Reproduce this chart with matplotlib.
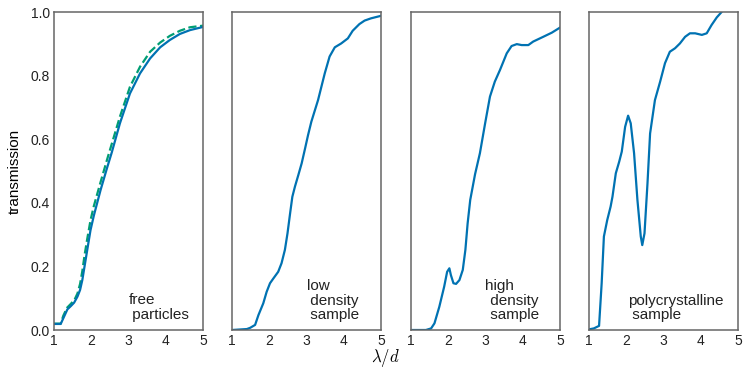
import numpy as np
import matplotlib
matplotlib.use("Agg")
import matplotlib.pyplot as plt

plt.rcParams['font.family'] = ['Liberation Sans', 'DejaVu Sans']
plt.rcParams['mathtext.fontset'] = 'cm'

# free particles (solid = calc, dashed = reference)
x_free = [1.0, 1.18, 1.27, 1.36, 1.45, 1.54, 1.63, 1.70, 1.76, 1.82, 1.89, 1.98, 2.07, 2.25,
          2.43, 2.55, 2.77, 3.04, 3.31, 3.58, 3.85, 4.11, 4.38, 4.65, 5.0]
y_free = [0.019, 0.019, 0.042, 0.065, 0.075, 0.086, 0.105, 0.126, 0.157, 0.2, 0.25, 0.314,
          0.36, 0.44, 0.512, 0.558, 0.65, 0.744, 0.807, 0.854, 0.889, 0.912, 0.931, 0.943, 0.953]
x_free_ref = [1.0, 1.18, 1.25, 1.35, 1.45, 1.55, 1.63, 1.70, 1.76, 1.82, 1.89, 1.98, 2.07, 2.25,
              2.43, 2.55, 2.77, 3.04, 3.31, 3.58, 3.85, 4.11, 4.38, 4.65, 5.0]
y_free_ref = [0.02, 0.02, 0.045, 0.07, 0.082, 0.095, 0.115, 0.145, 0.185, 0.235, 0.285, 0.345,
              0.39, 0.465, 0.538, 0.585, 0.671, 0.765, 0.828, 0.875, 0.904, 0.925, 0.941, 0.952,
              0.957]

# low density sample
x_low = [1.0, 1.40, 1.49, 1.62, 1.71, 1.84, 1.93, 2.02, 2.11, 2.24, 2.33, 2.42, 2.49, 2.56,
         2.62, 2.69, 2.78, 2.87, 2.96, 3.04, 3.13, 3.31, 3.49, 3.62, 3.76, 3.93, 4.11, 4.24,
         4.42, 4.56, 4.73, 5.0]
y_low = [0.0, 0.003, 0.007, 0.016, 0.047, 0.084, 0.12, 0.147, 0.162, 0.183, 0.21, 0.252,
         0.304, 0.367, 0.419, 0.451, 0.487, 0.524, 0.57, 0.612, 0.655, 0.723, 0.807, 0.86,
         0.889, 0.901, 0.917, 0.941, 0.962, 0.973, 0.98, 0.988]

# high density sample
x_high = [1.0, 1.40, 1.54, 1.63, 1.76, 1.89, 1.97, 2.03, 2.07, 2.14, 2.21, 2.30, 2.39, 2.46,
          2.52, 2.59, 2.72, 2.85, 2.99, 3.12, 3.25, 3.39, 3.57, 3.70, 3.84, 3.97, 4.15, 4.28,
          4.55, 4.78, 5.0]
y_high = [0.0, 0.0, 0.005, 0.021, 0.073, 0.136, 0.183, 0.194, 0.173, 0.147, 0.145, 0.157,
          0.189, 0.252, 0.335, 0.409, 0.49, 0.556, 0.65, 0.734, 0.781, 0.818, 0.87, 0.893,
          0.899, 0.896, 0.896, 0.907, 0.922, 0.935, 0.951]

# polycrystalline sample
x_poly = [1.0, 1.13, 1.27, 1.34, 1.40, 1.49, 1.58, 1.63, 1.72, 1.81, 1.88, 1.97, 2.05, 2.12,
          2.21, 2.30, 2.39, 2.43, 2.49, 2.57, 2.64, 2.77, 2.91, 3.04, 3.17, 3.31, 3.44, 3.58,
          3.71, 3.85, 4.03, 4.16, 4.29, 4.43, 4.56, 4.8, 5.0]
y_poly = [0.002, 0.005, 0.013, 0.147, 0.294, 0.346, 0.388, 0.419, 0.493, 0.529, 0.561, 0.639,
          0.674, 0.65, 0.556, 0.409, 0.294, 0.267, 0.304, 0.461, 0.618, 0.723, 0.781, 0.839,
          0.875, 0.886, 0.901, 0.922, 0.933, 0.933, 0.928, 0.933, 0.959, 0.983, 1.0, 1.04,
          1.07]

labels = ["free\n particles", "low\n density\n sample", "high\n density\n sample",
          "polycrystalline\n sample"]
label_x = [3.0, 3.0, 3.0, 2.05]

blue = '#0072B2'
green = '#009E73'

fig = plt.figure(figsize=(7.48, 3.76), dpi=100)
lefts = [54, 232, 411, 589]
axes = []
for i, l in enumerate(lefts):
    ax = fig.add_axes([l / 748, 46 / 376, 149 / 748, 318 / 376])
    axes.append(ax)

axes[0].plot(x_free_ref, y_free_ref, '--', color=green, lw=1.6)
axes[0].plot(x_free, y_free, '-', color=blue, lw=1.6)
axes[1].plot(x_low, y_low, '-', color=blue, lw=1.6)
axes[2].plot(x_high, y_high, '-', color=blue, lw=1.6)
axes[3].plot(x_poly, y_poly, '-', color=blue, lw=1.6)

for i, ax in enumerate(axes):
    ax.set_xlim(1, 5)
    ax.set_ylim(0, 1)
    ax.set_xticks([1, 2, 3, 4, 5])
    ax.tick_params(length=0, labelsize=10, pad=3, colors='#222222')
    for s in ax.spines.values():
        s.set_color('#666666')
        s.set_linewidth(1.1)
    if i == 0:
        ax.set_yticks([0, 0.2, 0.4, 0.6, 0.8, 1.0])
        ax.set_yticklabels(['0.0', '0.2', '0.4', '0.6', '0.8', '1.0'])
        ax.set_ylabel('transmission', fontsize=11, labelpad=6)
    else:
        ax.set_yticks([])
    ax.text(label_x[i], 0.025, labels[i], fontsize=11, va='bottom', ha='left',
            linespacing=1.05, color='#222222')

fig.text(385 / 748, 18 / 376, r'$\lambda/d$', fontsize=12, ha='center', va='center')

fig.savefig('out.png', dpi=100)
